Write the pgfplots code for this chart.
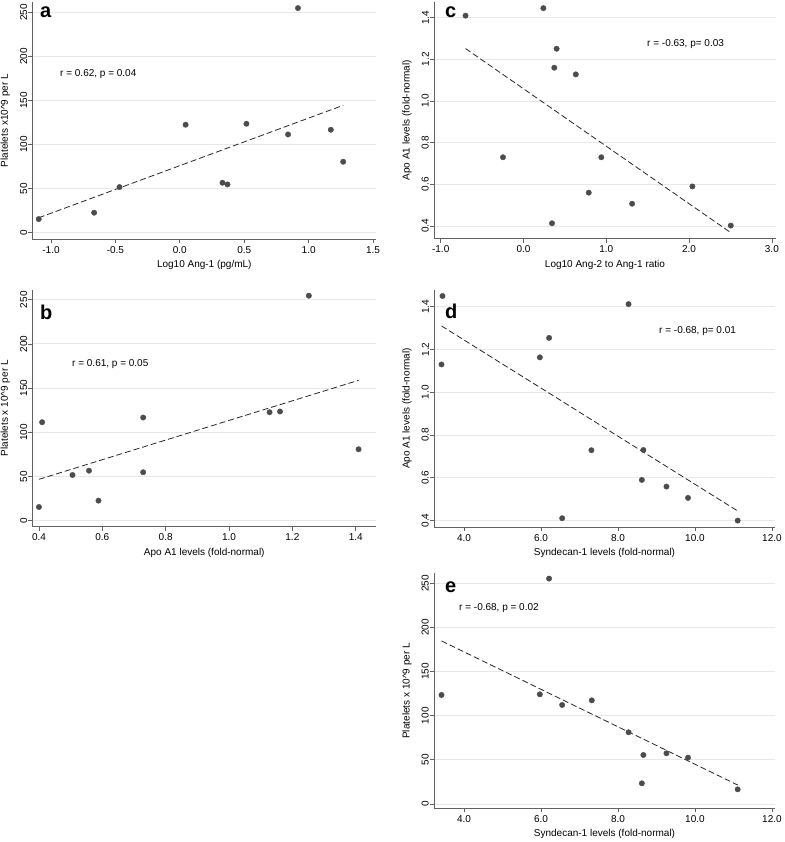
\documentclass[border=0pt]{standalone}
\usepackage{fontspec}
\setmainfont{Liberation Sans}
\usepackage{pgfplots}
\pgfplotsset{compat=1.18}

\definecolor{pt}{gray}{0.30}
\definecolor{ax}{gray}{0.38}
\definecolor{grd}{gray}{0.91}

\pgfplotsset{
  panel/.style={
    scale only axis, anchor=south west, clip=false,
    axis lines*=left, axis line style={-, draw=ax, line width=0.7pt},
    tick align=outside, major tick length=4pt,
    every tick/.style={draw=ax, line width=0.7pt},
    ymajorgrids, grid style={draw=grd, line width=0.8pt},
    /pgf/number format/assume math mode=true,
    yticklabel style={rotate=90, anchor=south, inner sep=1pt},
    xticklabel style={inner sep=1pt}, xticklabel shift=2pt,
    xlabel style={at={([yshift=-26pt]axis description cs:0.5,0)}, anchor=center},
    ylabel style={at={([xshift=-27pt]axis description cs:0,0.5)}, anchor=center},
  },
  xdec/.style={xticklabel style={/pgf/number format/fixed,
    /pgf/number format/fixed zerofill, /pgf/number format/precision=1}},
  ydec/.style={yticklabel style={/pgf/number format/fixed,
    /pgf/number format/fixed zerofill, /pgf/number format/precision=1}},
  dots/.style={only marks, mark=*, mark size=2.7pt, mark options={draw=pt, fill=pt}},
  fitline/.style={no marks, draw=black!85, line width=0.8pt, dash pattern=on 6pt off 3pt},
}

\begin{document}
\begin{tikzpicture}
\useasboundingbox (0,0) rectangle (784pt,-842pt);

% a
\begin{axis}[panel, xdec, at={(32.3pt,-239pt)}, width=344pt, height=237pt,
  xmin=-1.145, xmax=1.525, ymin=-7.1, ymax=261.7,
  xtick={-1,-0.5,0,0.5,1,1.5}, ytick={0,50,100,150,200,250},
  xlabel={Log10 Ang-1 (pg/mL)}, ylabel={Platelets x10\textasciicircum 9 per L}]
\addplot[fitline] coordinates {(-1.095,17.0) (1.268,144.5)};
\addplot[dots] coordinates {
  (-1.095,15.5) (-0.665,22.7) (-0.468,51.8) (0.045,122.5) (0.331,56.7)
  (0.370,54.8) (0.517,123.6) (0.840,111.5) (0.917,254.8) (1.172,116.8)
  (1.268,80.5)};
\end{axis}

% c
\begin{axis}[panel, xdec, ydec, at={(434pt,-238.7pt)}, width=342pt, height=237pt,
  xmin=-1.081, xmax=3.05, ymin=0.339, ymax=1.477,
  xtick={-1,0,1,2,3}, ytick={0.4,0.6,0.8,1.0,1.2,1.4},
  xlabel={Log10 Ang-2 to Ang-1 ratio}, ylabel={Apo A1 levels (fold-normal)}]
\addplot[fitline] coordinates {(-0.70,1.252) (2.504,0.368)};
\addplot[dots] coordinates {
  (-0.70,1.41) (0.24,1.446) (0.40,1.251) (0.372,1.16) (0.632,1.128)
  (-0.248,0.73) (0.94,0.73) (0.788,0.56) (1.312,0.507) (2.04,0.59)
  (0.344,0.413) (2.504,0.402)};
\end{axis}

% b
\begin{axis}[panel, xdec, at={(32.3pt,-526.7pt)}, width=344pt, height=237pt,
  xmin=0.379, xmax=1.465, ymin=-6.8, ymax=261.3,
  xtick={0.4,0.6,0.8,1.0,1.2,1.4}, ytick={0,50,100,150,200,250},
  xlabel={Apo A1 levels (fold-normal)}, ylabel={Platelets x 10\textasciicircum 9 per L}]
\addplot[fitline] coordinates {(0.40,46.8) (1.409,158.8)};
\addplot[dots] coordinates {
  (0.40,15.5) (0.41,111.4) (0.506,51.7) (0.558,56.6) (0.588,22.7)
  (0.729,116.7) (0.729,54.8) (1.128,122.7) (1.161,123.5) (1.252,254.5)
  (1.409,80.8)};
\end{axis}

% d
\begin{axis}[panel, xdec, ydec, at={(434pt,-527pt)}, width=341pt, height=237pt,
  xmin=3.22, xmax=12.08, ymin=0.37, ymax=1.478,
  xtick={4,6,8,10,12}, ytick={0.4,0.6,0.8,1.0,1.2,1.4},
  xlabel={Syndecan-1 levels (fold-normal)}, ylabel={Apo A1 levels (fold-normal)}]
\addplot[fitline] coordinates {(3.415,1.31) (11.11,0.445)};
\addplot[dots] coordinates {
  (3.44,1.45) (3.415,1.13) (8.275,1.412) (6.21,1.254) (5.97,1.163)
  (7.31,0.729) (8.66,0.73) (8.62,0.59) (9.26,0.559) (9.82,0.506)
  (6.55,0.411) (11.11,0.40)};
\end{axis}

% e
\begin{axis}[panel, xdec, at={(434pt,-808.3pt)}, width=341pt, height=235pt,
  xmin=3.22, xmax=12.08, ymin=-4.9, ymax=261.3,
  xtick={4,6,8,10,12}, ytick={0,50,100,150,200,250},
  xlabel={Syndecan-1 levels (fold-normal)}, ylabel={Platelets x 10\textasciicircum 9 per L}]
\addplot[fitline] coordinates {(3.415,184.7) (11.11,21.5)};
\addplot[dots] coordinates {
  (3.415,123.5) (6.21,255.3) (5.97,124.2) (6.55,112.2) (7.32,117.4)
  (8.275,81.2) (8.66,55.5) (9.26,57.4) (9.82,52.5) (8.62,23.4)
  (11.11,16.6)};
\end{axis}

% panel letters and correlation notes
\begin{scope}[every node/.style={inner sep=0pt, anchor=base west}]
\node[font=\fontsize{20}{22}\selectfont\bfseries] at (40pt,-18pt) {a};
\node[font=\fontsize{20}{22}\selectfont\bfseries] at (40pt,-319pt) {b};
\node[font=\fontsize{20}{22}\selectfont\bfseries] at (445pt,-18pt) {c};
\node[font=\fontsize{20}{22}\selectfont\bfseries] at (445pt,-318pt) {d};
\node[font=\fontsize{20}{22}\selectfont\bfseries] at (445pt,-592pt) {e};
\node at (60pt,-76.6pt) {r = 0.62, p = 0.04};
\node at (72pt,-366.6pt) {r = 0.61, p = 0.05};
\node at (647pt,-46.3pt) {r = -0.63, p= 0.03};
\node at (659pt,-333.6pt) {r = -0.68, p= 0.01};
\node at (459pt,-610.3pt) {r = -0.68, p = 0.02};
\end{scope}
\end{tikzpicture}
\end{document}
